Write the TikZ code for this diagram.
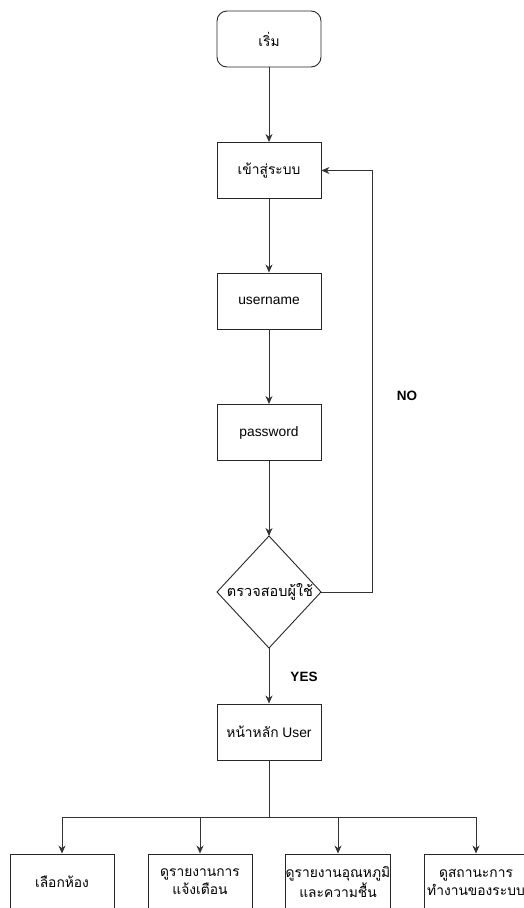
\documentclass[tikz,border=0pt]{standalone}
\usepackage{fontspec}
\setmainfont{Liberation Sans}
\newfontfamily\thaifont[Script=Thai]{Loma}
\usetikzlibrary{arrows.meta}
\tikzset{
  box/.style={draw=black!85, line width=0.9pt, minimum width=104pt, minimum height=56pt, inner sep=0pt, align=center, font=\fontsize{13.8}{18}\selectfont},
  startbox/.style={box, rounded corners=10pt},
  decision/.style={draw=black!85, line width=0.9pt, inner sep=0pt},
  conn/.style={draw=black!80, line width=0.9pt, -{Stealth[length=8pt,width=7pt,inset=2.5pt]}},
  plain/.style={draw=black!80, line width=0.9pt},
  lbl/.style={font=\fontsize{13.5}{15}\selectfont\bfseries}
}
\begin{document}
\begin{tikzpicture}[x=1pt,y=-1pt]
\useasboundingbox (0,0) rectangle (524,908);
\clip (0,0) rectangle (524,908);
\node[startbox] (start) at (269,39) {\thaifont เริ่ม};
\node[box] (login) at (269,170.5) {\thaifont เข้าสู่ระบบ};
\node[box] (user) at (269,301) {username};
\node[box] (pass) at (269,432.5) {password};
\coordinate (dT) at (269,536);
\coordinate (dB) at (269,648);
\coordinate (dL) at (217,592);
\coordinate (dR) at (321,592);
\draw[decision] (dT) -- (dR) -- (dB) -- (dL) -- cycle;
\node[font=\fontsize{14.5}{17}\selectfont] (check) at (270,592) {\thaifont ตรวจสอบผู้ใช้};
\node[box] (home) at (269,732) {{\thaifont หน้าหลัก} User};
\node[box] (b1) at (62,882) {\thaifont เลือกห้อง};
\node[box] (b2) at (200,882) {\thaifont ดูรายงานการ\\\thaifont แจ้งเตือน};
\node[box] (b3) at (338,882) {\thaifont ดูรายงานอุณหภูมิ\\\thaifont และความชื้น};
\node[box] (b4) at (476,882) {\thaifont ดูสถานะการ\\\thaifont ทำงานของระบบ};
\coordinate (split) at (269,817);
\coordinate (fbR) at (372,592);
\coordinate (fbT) at (372,170.5);
\node[lbl] (no) at (407,396) {NO};
\node[lbl] (yes) at (304,677) {YES};
\draw[conn] (start) -- (login);
\draw[conn] (login) -- (user);
\draw[conn] (user) -- (pass);
\draw[conn] (pass.south) -- (dT);
\draw[conn] (dB) -- (home);
\draw[conn] (dR) -- (fbR) -- (fbT) -- (login.east);
\draw[plain] (home.south) -- (split);
\draw[conn] (split) -| (b1.north);
\draw[conn] (split) -| (b2.north);
\draw[conn] (split) -| (b3.north);
\draw[conn] (split) -| (b4.north);
\end{tikzpicture}
\end{document}
